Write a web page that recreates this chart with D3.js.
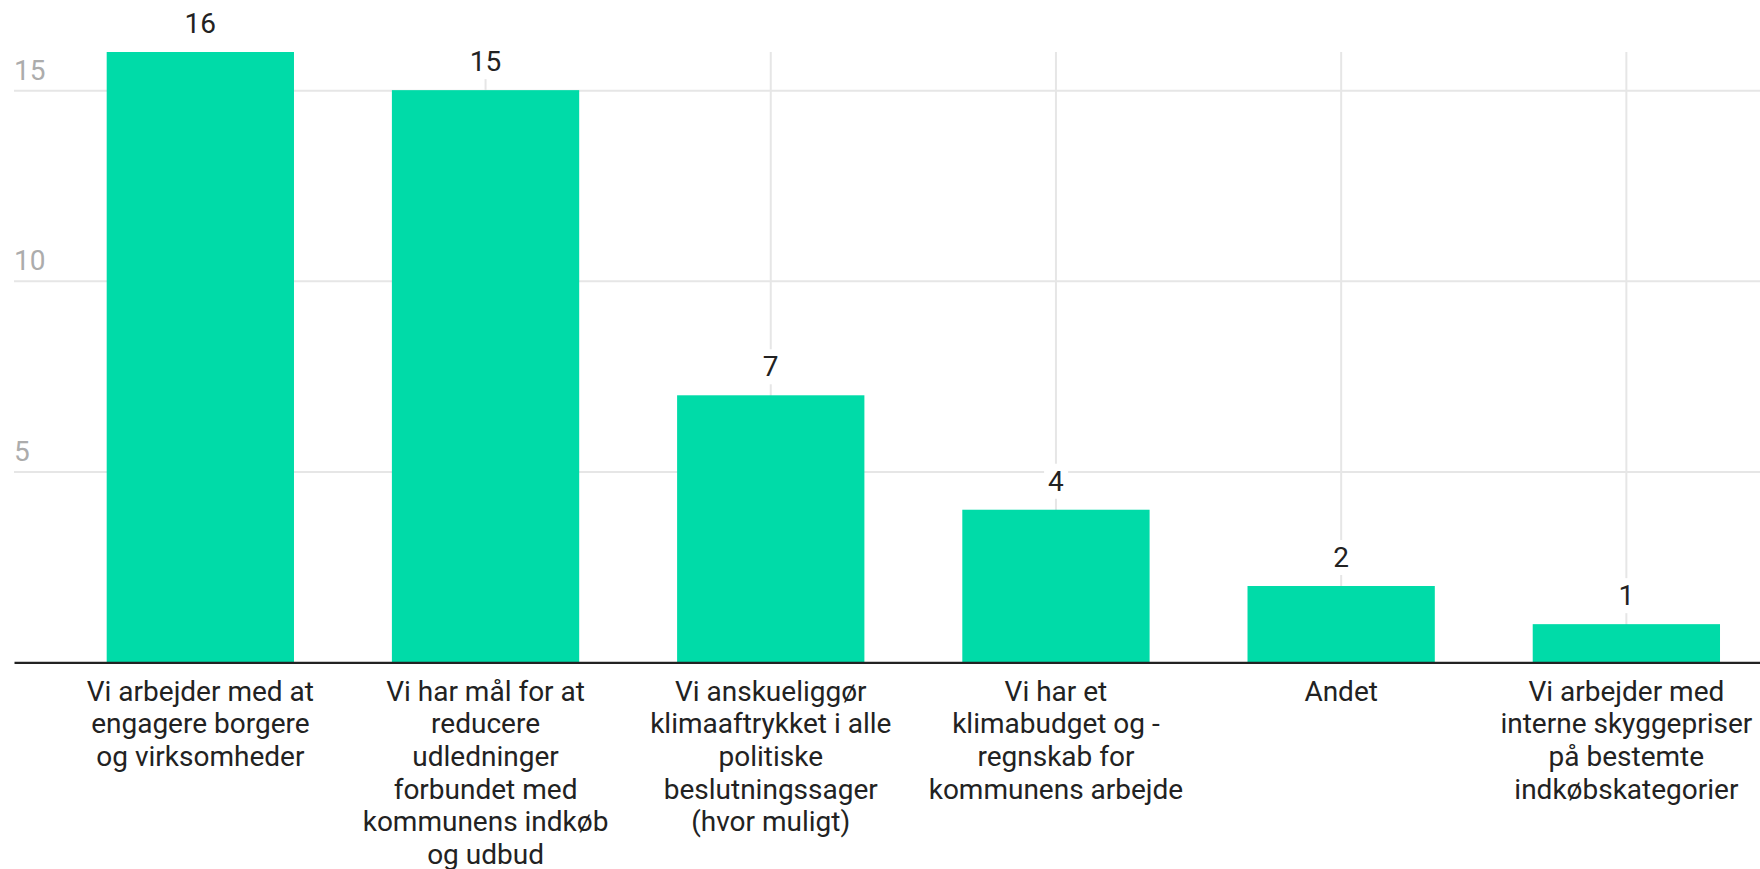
<!DOCTYPE html>
<html>
<head>
<meta charset="utf-8">
<script src="https://cdn.jsdelivr.net/npm/d3@7"></script>
<style>
  html, body { margin: 0; padding: 0; background: #fff; }
  svg { display: block; font-family: Roboto, "Noto Sans", sans-serif; }
</style>
</head>
<body>
<svg id="chart" width="1760" height="869"></svg>
<script>
// ---- data ----
const categories = [
  "Vi arbejder med at engagere borgere og virksomheder",
  "Vi har mål for at reducere udledninger forbundet med kommunens indkøb og udbud",
  "Vi anskueliggør klimaaftrykket i alle politiske beslutningssager (hvor muligt)",
  "Vi har et klimabudget og -regnskab for kommunens arbejde",
  "Andet",
  "Vi arbejder med interne skyggepriser på bestemte indkøbskategorier"
];
const categoryLines = [
  ["Vi arbejder med at", "engagere borgere", "og virksomheder"],
  ["Vi har mål for at", "reducere", "udledninger", "forbundet med", "kommunens indkøb", "og udbud"],
  ["Vi anskueliggør", "klimaaftrykket i alle", "politiske", "beslutningssager", "(hvor muligt)"],
  ["Vi har et", "klimabudget og -", "regnskab for", "kommunens arbejde"],
  ["Andet"],
  ["Vi arbejder med", "interne skyggepriser", "på bestemte", "indkøbskategorier"]
];
const values = [16, 15, 7, 4, 2, 1];
const yTicks = [5, 10, 15];
const yMax = 16;

// ---- layout ----
const W = 1760, H = 869;
const left = 14, baseY = 662.3, topY = 52;
const svg = d3.select("#chart");

const x = d3.scaleBand()
  .domain(categories)
  .range([left, 1812.7])
  .paddingInner(0.3433)
  .paddingOuter(0.325);

const y = d3.scaleLinear().domain([0, yMax]).range([baseY, topY]);

// horizontal gridlines + tick labels
const yAxis = d3.axisRight(y).tickValues(yTicks).tickSize(W - left).tickFormat(d3.format("d"));
const gy = svg.append("g").attr("transform", `translate(${left},0)`).call(yAxis);
gy.select(".domain").remove();
gy.selectAll(".tick line").attr("stroke", "#e6e6e6").attr("stroke-width", 2);
gy.selectAll(".tick text")
  .attr("x", 0).attr("dy", null).attr("y", -11)
  .attr("text-anchor", "start")
  .attr("fill", "#acacac")
  .attr("font-size", 28)
  .attr("font-family", "Roboto, sans-serif");

// vertical gridlines at category centers
svg.append("g").selectAll("line").data(categories).join("line")
  .attr("x1", d => x(d) + x.bandwidth() / 2)
  .attr("x2", d => x(d) + x.bandwidth() / 2)
  .attr("y1", y(yMax)).attr("y2", baseY)
  .attr("stroke", "#e6e6e6").attr("stroke-width", 2);

// bars
svg.append("g").selectAll("rect").data(values).join("rect")
  .attr("x", (d, i) => x(categories[i]))
  .attr("y", d => y(d))
  .attr("width", x.bandwidth())
  .attr("height", d => baseY - y(d))
  .attr("fill", "#00dba8");

// value labels with white backgrounds
const vl = svg.append("g").selectAll("g").data(values).join("g");
vl.append("rect").attr("class", "bg").attr("fill", "#fff");
vl.append("text")
  .attr("x", (d, i) => x(categories[i]) + x.bandwidth() / 2)
  .attr("y", d => y(d) - 19)
  .attr("text-anchor", "middle")
  .attr("font-size", 28)
  .attr("fill", "#222")
  .text(d => d);
vl.each(function() {
  const g = d3.select(this);
  const bb = g.select("text").node().getBBox();
  g.select("rect.bg")
    .attr("x", bb.x - 4).attr("y", bb.y - 1)
    .attr("width", bb.width + 8).attr("height", bb.height + 2);
});

// x axis baseline
const xAxis = d3.axisBottom(x).tickSize(0).tickFormat("");
const gx = svg.append("g").attr("transform", `translate(0,${baseY})`).call(xAxis);
gx.select(".domain").attr("stroke", "#222").attr("stroke-width", 2.2);
gx.selectAll(".tick text").remove();

// category labels (multi-line)
const cl = svg.append("g").selectAll("text").data(categories).join("text")
  .attr("text-anchor", "middle")
  .attr("font-size", 28)
  .attr("fill", "#222")
  .attr("transform", d => `translate(${x(d) + x.bandwidth() / 2},${baseY + 38.4})`);
cl.selectAll("tspan").data((d, i) => categoryLines[i]).join("tspan")
  .attr("x", 0)
  .attr("y", (d, j) => j * 32.7)
  .text(d => d);
</script>
</body>
</html>
